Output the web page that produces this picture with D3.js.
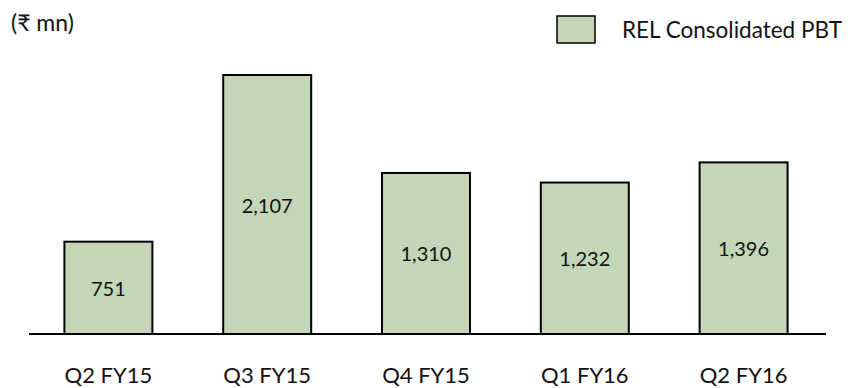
<!DOCTYPE html>
<html>
<head>
<script src="https://d3js.org/d3.v7.min.js"></script>
<style>
body { margin: 0; background: #fff; }
text { font-family: Lato, "Open Sans", "DejaVu Sans", sans-serif; fill: #111; }
</style>
</head>
<body>
<svg id="chart" width="858" height="388"></svg>
<script>
const categories = ["Q2 FY15", "Q3 FY15", "Q4 FY15", "Q1 FY16", "Q2 FY16"];
const pbt = [751, 2107, 1310, 1232, 1396];
const valueLabels = ["751", "2,107", "1,310", "1,232", "1,396"];
const seriesName = "REL Consolidated PBT";

const baseY = 334;
const fill = "#c3d7b8";
const svg = d3.select("#chart");

const x = d3.scaleBand().domain(categories).range([29, 823]).paddingInner(0.446).paddingOuter(0.223);
const y = d3.scaleLinear().domain([0, 2107]).range([baseY, 75]);

svg.selectAll("rect.bar")
  .data(pbt)
  .enter()
  .append("rect")
  .attr("class", "bar")
  .attr("x", (d, i) => x(categories[i]))
  .attr("y", d => y(d))
  .attr("width", x.bandwidth())
  .attr("height", d => baseY - y(d))
  .attr("fill", fill)
  .attr("stroke", "#000")
  .attr("stroke-width", 2);

svg.selectAll("text.val")
  .data(pbt)
  .enter()
  .append("text")
  .attr("class", "val")
  .attr("x", (d, i) => x(categories[i]) + x.bandwidth() / 2)
  .attr("y", d => (y(d) + baseY) / 2)
  .attr("text-anchor", "middle")
  .attr("dominant-baseline", "central")
  .style("font-size", "20px")
  .text((d, i) => valueLabels[i]);

// baseline
svg.append("line")
  .attr("x1", 29).attr("x2", 826)
  .attr("y1", baseY).attr("y2", baseY)
  .attr("stroke", "#000").attr("stroke-width", 2);

svg.selectAll("text.cat")
  .data(categories)
  .enter()
  .append("text")
  .attr("class", "cat")
  .attr("x", d => x(d) + x.bandwidth() / 2)
  .attr("y", 383)
  .attr("text-anchor", "middle")
  .style("font-size", "22px")
  .text(d => d);

svg.append("text")
  .attr("x", 11).attr("y", 31)
  .style("font-size", "23px")
  .text("(₹ mn)");

// legend
svg.append("rect")
  .attr("x", 557).attr("y", 16).attr("width", 38).attr("height", 27)
  .attr("fill", fill).attr("stroke", "#000").attr("stroke-width", 1.5);
svg.append("text")
  .attr("x", 622).attr("y", 38)
  .style("font-size", "22.5px")
  .text(seriesName);
</script>
</body>
</html>
